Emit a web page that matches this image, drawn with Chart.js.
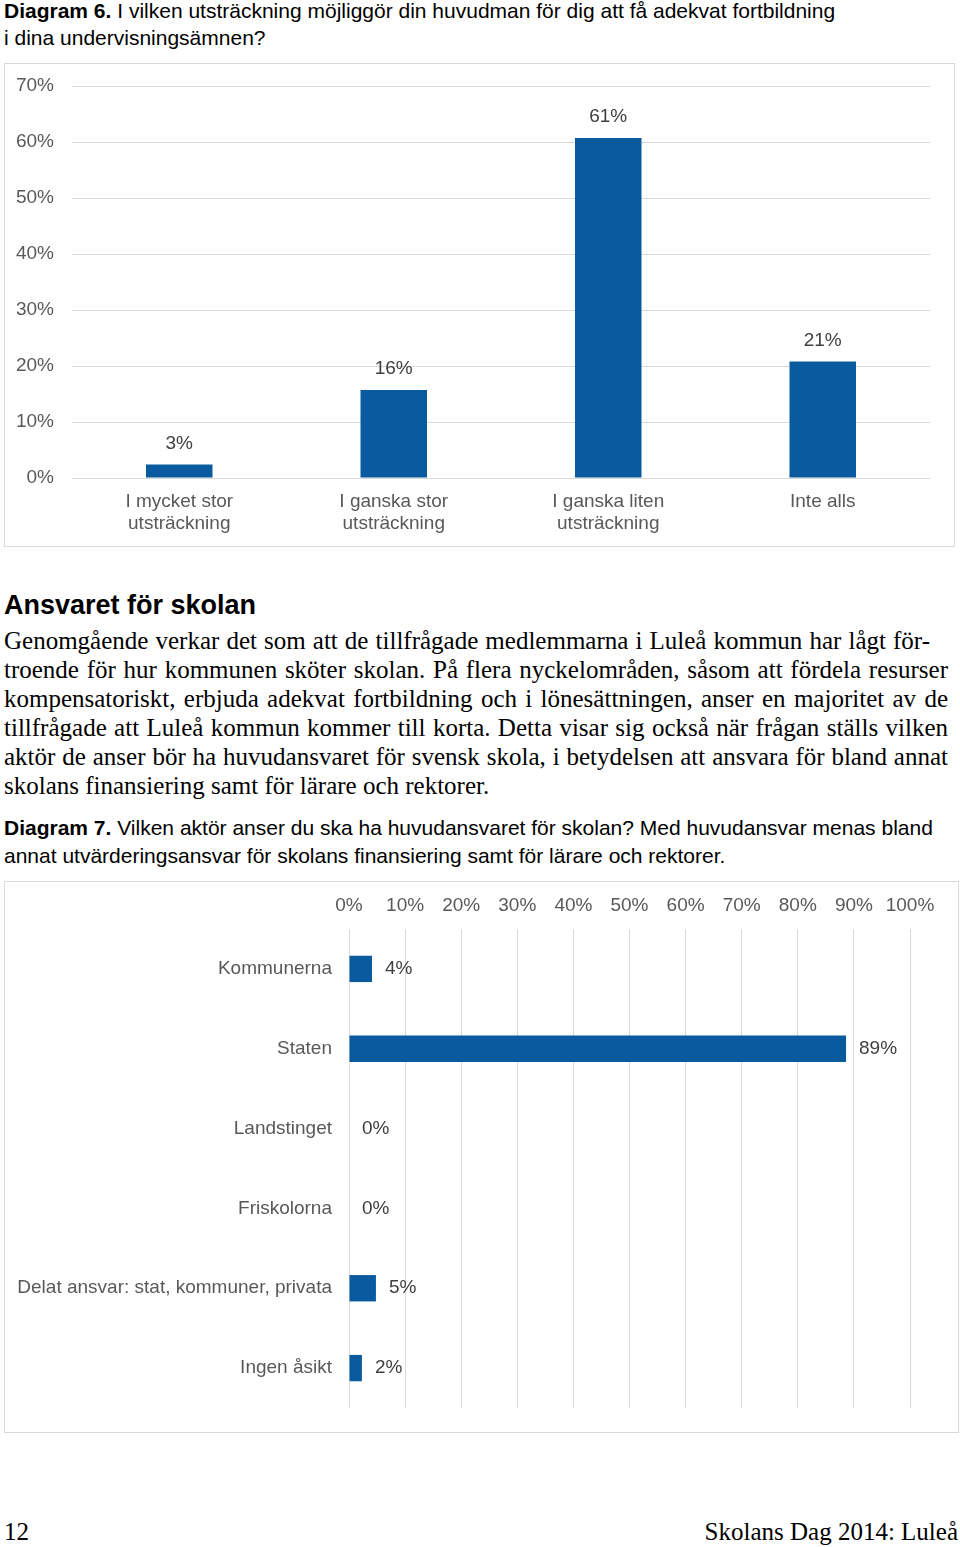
<!DOCTYPE html>
<html><head><meta charset="utf-8">
<script src="https://cdn.jsdelivr.net/npm/chart.js@4.4.1/dist/chart.umd.min.js"></script>
<style>
html,body{margin:0;padding:0;background:#fff;}
body{width:960px;height:1547px;position:relative;overflow:hidden;}
.abs{position:absolute;}
.cap{font-family:"Liberation Sans",Arial,sans-serif;font-size:21px;line-height:27px;color:#000;white-space:nowrap;left:4px;}
.box{border:1px solid #d9d9d9;box-sizing:border-box;}
.body{font-family:"Liberation Serif","Times New Roman",serif;font-size:25px;line-height:29px;color:#000;left:4px;width:944px;}
</style></head><body>
<div class="abs cap" style="top:-3px"><b>Diagram 6.</b> I vilken utsträckning möjliggör din huvudman för dig att få adekvat fortbildning<br>i dina undervisningsämnen?</div>
<div class="abs box" style="left:4px;top:63px;width:951px;height:484px"></div>
<div class="abs" style="left:4px;top:63px;width:950px;height:483px"><canvas id="c1"></canvas></div>

<div class="abs" style="left:4px;top:589px;font-family:'Liberation Sans',Arial,sans-serif;font-weight:bold;font-size:27px;line-height:32px;white-space:nowrap">Ansvaret för skolan</div>
<div class="abs body" style="top:626px" id="bodytext"></div>

<div class="abs cap" style="top:814px;line-height:28px"><b>Diagram 7.</b> Vilken aktör anser du ska ha huvudansvaret för skolan? Med huvudansvar menas bland<br>annat utvärderingsansvar för skolans finansiering samt för lärare och rektorer.</div>
<div class="abs box" style="left:4px;top:881px;width:955px;height:552px"></div>
<div class="abs" style="left:4px;top:881px;width:954px;height:551px"><canvas id="c2"></canvas></div>

<div class="abs" style="left:4px;top:1517px;font-family:'Liberation Serif','Times New Roman',serif;font-size:25px;line-height:29px">12</div>
<div class="abs" style="right:2px;top:1517px;font-family:'Liberation Serif','Times New Roman',serif;font-size:25px;line-height:29px;white-space:nowrap">Skolans Dag 2014: Luleå</div>

<script>
// ---- Data ----
const categories1 = [["I mycket stor","utsträckning"],["I ganska stor","utsträckning"],["I ganska liten","utsträckning"],["Inte alls"]];
const values1 = [2.4, 15.7, 60.7, 20.8];
const labels1 = ["3%","16%","61%","21%"];

const categories2 = ["Kommunerna","Staten","Landstinget","Friskolorna","Delat ansvar: stat, kommuner, privata","Ingen åsikt"];
const values2 = [4.1, 88.6, 0, 0, 4.8, 2.3];
const labels2 = ["4%","89%","0%","0%","5%","2%"];

const bodyLines = [
 "Genomgående verkar det som att de tillfrågade medlemmarna i Luleå kommun har lågt för-",
 "troende för hur kommunen sköter skolan. På flera nyckelområden, såsom att fördela resurser",
 "kompensatoriskt, erbjuda adekvat fortbildning och i lönesättningen, anser en majoritet av de",
 "tillfrågade att Luleå kommun kommer till korta. Detta visar sig också när frågan ställs vilken",
 "aktör de anser bör ha huvudansvaret för svensk skola, i betydelsen att ansvara för bland annat",
 "skolans finansiering samt för lärare och rektorer."
];
const bt = document.getElementById('bodytext');
bodyLines.forEach((l,i)=>{const d=document.createElement('div');d.textContent=l;
 if(i<bodyLines.length-1){d.style.textAlign='justify';d.style.textAlignLast='justify';}
 if(i===0){d.style.width='926px';}
 d.style.whiteSpace='nowrap';
 bt.appendChild(d);});

const BAR = '#0a5aa0';
const TICK = '#595959';
const FONT = {family:"'Liberation Sans', Arial, sans-serif", size:19};

const labelPlugin = {
  id:'vlabels',
  afterDatasetsDraw(chart, args, opts){
    const ctx = chart.ctx;
    const meta = chart.getDatasetMeta(0);
    ctx.save();
    ctx.font = "19px 'Liberation Sans', Arial, sans-serif";
    ctx.fillStyle = '#404040';
    meta.data.forEach((el,i)=>{
      const t = opts.texts[i];
      if(opts.horizontal){
        ctx.textAlign='left'; ctx.textBaseline='middle';
        ctx.fillText(t, el.x + 13, el.y);
      } else {
        ctx.textAlign='center'; ctx.textBaseline='middle';
        ctx.fillText(t, el.x, el.y - 21);
      }
    });
    ctx.restore();
  }
};

function fixFit(size, horiz){
  return function(s){
    if(horiz){ s.height = size; } else { s.width = size; }
    s.paddingTop = 0; s.paddingBottom = 0; s.paddingLeft = 0; s.paddingRight = 0;
  };
}

new Chart(document.getElementById('c1'), {
  type:'bar',
  data:{labels:categories1, datasets:[{data:values1, backgroundColor:BAR, barPercentage:0.31, categoryPercentage:1}]},
  plugins:[labelPlugin],
  options:{
    responsive:true, maintainAspectRatio:false, animation:false,
    layout:{padding:{top:23,right:24,left:0,bottom:0}},
    plugins:{legend:{display:false}, tooltip:{enabled:false}, vlabels:{texts:labels1, horizontal:false}},
    scales:{
      x:{grid:{display:false, drawTicks:false}, border:{display:false},
         ticks:{color:TICK, font:FONT, padding:12, maxRotation:0, autoSkip:false},
         afterFit:fixFit(68,true)},
      y:{min:0,max:70, grid:{color:'#d9d9d9', drawTicks:false, lineWidth:1}, border:{display:false},
         ticks:{stepSize:10, color:TICK, font:FONT, padding:18, callback:v=>v+'%'},
         afterFit:fixFit(68,false)}
    }
  }
});

new Chart(document.getElementById('c2'), {
  type:'bar',
  data:{labels:categories2, datasets:[{data:values2, backgroundColor:BAR, barPercentage:0.33, categoryPercentage:1}]},
  plugins:[labelPlugin],
  options:{
    indexAxis:'y',
    responsive:true, maintainAspectRatio:false, animation:false,
    layout:{padding:{top:0,right:48,left:0,bottom:24}},
    plugins:{legend:{display:false}, tooltip:{enabled:false}, vlabels:{texts:labels2, horizontal:true}},
    scales:{
      x:{position:'top', min:0, max:100, grid:{color:'#d9d9d9', drawTicks:false, lineWidth:1}, border:{display:false},
         ticks:{stepSize:10, color:TICK, font:FONT, padding:12, maxRotation:0, callback:v=>v+'%'},
         afterFit:fixFit(48,true)},
      y:{grid:{display:false, drawTicks:false}, border:{display:false},
         ticks:{color:TICK, font:FONT, padding:17, autoSkip:false},
         afterFit:fixFit(345,false)}
    }
  }
});
</script>
</body></html>
